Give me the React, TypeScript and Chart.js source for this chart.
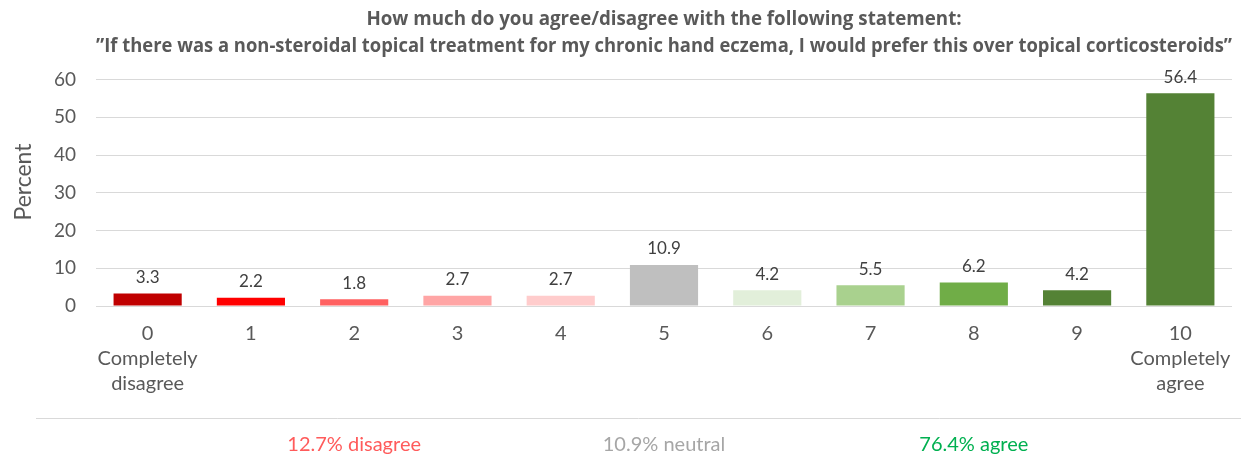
import React, { useEffect, useRef } from "react";
import { Chart, registerables } from "chart.js";

Chart.register(...registerables);

const titleLines = [
  "How much do you agree/disagree with the following statement:",
  "\u201dIf there was a non-steroidal topical treatment for my chronic hand eczema, I would prefer this over topical corticosteroids\u201d",
];

const yAxisTitle = "Percent";

const categories: string[][] = [
  ["0", "Completely", "disagree"],
  ["1"],
  ["2"],
  ["3"],
  ["4"],
  ["5"],
  ["6"],
  ["7"],
  ["8"],
  ["9"],
  ["10", "Completely", "agree"],
];

const percents = [3.3, 2.2, 1.8, 2.7, 2.7, 10.9, 4.2, 5.5, 6.2, 4.2, 56.4];

const barColors = [
  "#C00000",
  "#FF0000",
  "#FF6161",
  "#FFA5A5",
  "#FFCCCC",
  "#BFBFBF",
  "#E2EFDA",
  "#A9D18E",
  "#70AD47",
  "#548235",
  "#548235",
];

const yTickStep = 10;
const yMin = 0;
const yMax = 60;

const summaryLabels = ["12.7% disagree", "10.9% neutral", "76.4% agree"];
const summaryColors = ["#FF5B5B", "#A6A6A6", "#00B050"];
const summaryCategoryIndex = [2, 5, 8];

const FONT = "Lato, 'Open Sans', sans-serif";
const TITLE_FONT = "'Open Sans', Lato, sans-serif";

const valueLabelPlugin = {
  id: "valueLabels",
  afterDatasetsDraw(chart: any) {
    const ctx = chart.ctx;
    const meta = chart.getDatasetMeta(0);
    ctx.save();
    ctx.font = `17px ${FONT}`;
    ctx.fillStyle = "#404040";
    ctx.textAlign = "center";
    ctx.textBaseline = "middle";
    meta.data.forEach((bar: any, i: number) => {
      ctx.fillText(percents[i].toFixed(1), bar.x, bar.y - 16);
    });
    ctx.restore();
  },
};

const yTitlePlugin = {
  id: "yTitle",
  afterDraw(chart: any) {
    const ctx = chart.ctx;
    ctx.save();
    ctx.translate(24, 182);
    ctx.rotate(-Math.PI / 2);
    ctx.font = `23px ${FONT}`;
    ctx.fillStyle = "#595959";
    ctx.textAlign = "center";
    ctx.textBaseline = "middle";
    ctx.fillText(yAxisTitle, 0, 0);
    ctx.restore();
  },
};

const summaryPlugin = {
  id: "summary",
  afterDraw(chart: any) {
    const ctx = chart.ctx;
    const xScale = chart.scales.x;
    const h = chart.height;
    ctx.save();
    ctx.strokeStyle = "#D9D9D9";
    ctx.lineWidth = 1;
    ctx.beginPath();
    ctx.moveTo(36, h - 37.5);
    ctx.lineTo(chart.width, h - 37.5);
    ctx.stroke();
    ctx.font = `20px ${FONT}`;
    ctx.textAlign = "center";
    ctx.textBaseline = "middle";
    summaryLabels.forEach((t, i) => {
      ctx.fillStyle = summaryColors[i];
      ctx.fillText(t, xScale.getPixelForValue(summaryCategoryIndex[i]), h - 11);
    });
    ctx.restore();
  },
};

export default function App() {
  const ref = useRef<HTMLCanvasElement>(null);
  useEffect(() => {
    if (!ref.current) return;
    const chart = new Chart(ref.current, {
      type: "bar",
      data: {
        labels: categories,
        datasets: [
          {
            data: percents,
            backgroundColor: barColors,
            barPercentage: 0.66,
            categoryPercentage: 1,
          },
        ],
      },
      options: {
        responsive: false,
        animation: false,
        layout: { padding: { left: 0, right: 9, top: 0, bottom: 0 } },
        plugins: {
          legend: { display: false },
          tooltip: { enabled: false },
          title: {
            display: true,
            fullSize: false,
            text: titleLines,
            color: "#595959",
            font: { family: TITLE_FONT, size: 18.75, weight: "bold", lineHeight: 1.43 },
            padding: { top: 6, bottom: 20 },
          },
        },
        scales: {
          x: {
            grid: { display: false },
            border: { display: false },
            ticks: {
              color: "#595959",
              font: { family: FONT, size: 20, lineHeight: 1.25 },
              padding: 7,
              maxRotation: 0,
              autoSkip: false,
            },
            afterFit(s: any) {
              s.height = 150;
            },
          },
          y: {
            min: yMin,
            max: yMax,
            ticks: {
              stepSize: yTickStep,
              color: "#595959",
              font: { family: FONT, size: 19 },
              padding: 20,
            },
            grid: { color: "#D9D9D9", drawTicks: false },
            border: { display: false },
            afterFit(s: any) {
              s.width = 96;
            },
          },
        },
      },
      plugins: [valueLabelPlugin, yTitlePlugin, summaryPlugin],
    });
    return () => chart.destroy();
  }, []);
  return (
    <div
      style={{
        position: "fixed",
        left: 0,
        top: 0,
        width: 1241,
        height: 456,
        background: "#fff",
      }}
    >
      <canvas ref={ref} width={1241} height={456} />
    </div>
  );
}
